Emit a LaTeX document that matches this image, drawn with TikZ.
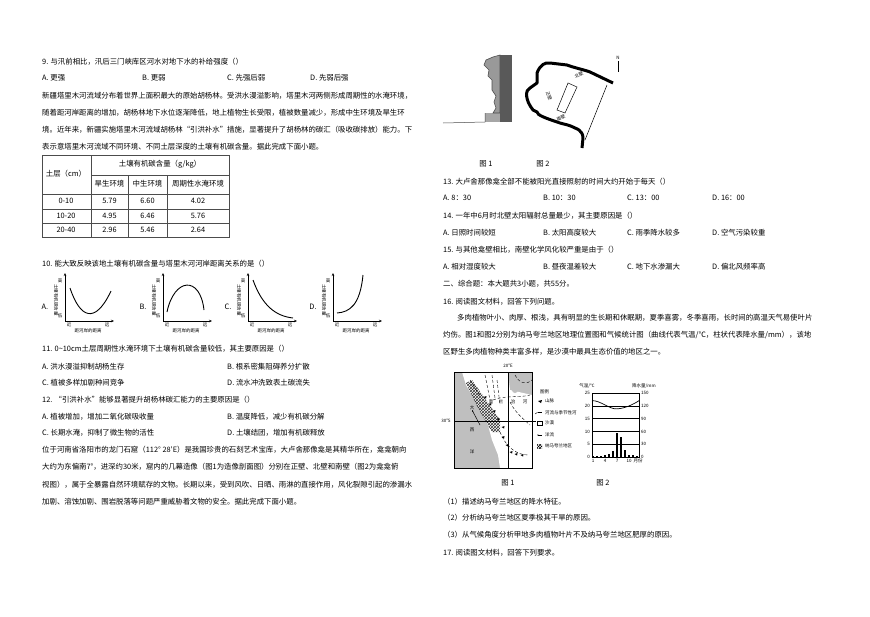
\documentclass[tikz,border=0pt]{standalone}
\usepackage{fontspec}
\setmainfont{Noto Sans CJK SC}
\usetikzlibrary{arrows.meta,patterns}
\begin{document}
\begin{tikzpicture}[x=1pt,y=-1pt,
 t/.style={anchor=west,inner sep=0pt,font=\fontsize{7.4}{9}\selectfont},
 c/.style={inner sep=0pt,font=\fontsize{7.4}{9}\selectfont},
 s/.style={inner sep=0pt,font=\fontsize{4.5}{5}\selectfont},
 ax/.style={line width=0.6pt,-{Stealth[length=3pt,width=2.5pt]}},
 cv/.style={line width=0.9pt},
 tb/.style={line width=0.5pt,draw=black!70}]
\useasboundingbox (0,0) rectangle (870,616);
\fill[white] (0,0) rectangle (870,616);
% ---------- left column ----------
\node[t] (q9) at (42,62) {9. 与汛前相比，汛后三门峡库区河水对地下水的补给强度（）};
\node[t] (q9a) at (42,78) {A. 更强};
\node[t] (q9b) at (142,78) {B. 更弱};
\node[t] (q9c) at (227,78) {C. 先强后弱};
\node[t] (q9d) at (310,78) {D. 先弱后强};
\node[t] (p1) at (42,96) {新疆塔里木河流域分布着世界上面积最大的原始胡杨林。受洪水漫溢影响，塔里木河两侧形成周期性的水淹环境，};
\node[t] (p2) at (42,113) {随着距河岸距离的增加，胡杨林地下水位逐渐降低，地上植物生长受限，植被数量减少，形成中生环境及旱生环};
\node[t] (p3) at (42,130) {境。近年来，新疆实施塔里木河流域胡杨林“引洪补水”措施，显著提升了胡杨林的碳汇（吸收碳排放）能力。下};
\node[t] (p4) at (42,147) {表示意塔里木河流域不同环境、不同土层深度的土壤有机碳含量。据此完成下面小题。};
% table
\draw[tb] (42,155) rectangle (229,237);
\draw[tb] (91,155) -- (91,237);
\draw[tb] (91,175) -- (229,175);
\draw[tb] (128,175) -- (128,237) (167,175) -- (167,237);
\draw[tb] (42,194) -- (229,194) (42,209) -- (229,209) (42,223) -- (229,223);
\node[c] (h0) at (66,174) {土层（cm）};
\node[c] (h1) at (160,164) {土壤有机碳含量（g/kg）};
\node[c] (h2) at (109.5,184) {旱生环境};
\node[c] (h3) at (147.5,184) {中生环境};
\node[c] (h4) at (198,184) {周期性水淹环境};
\node[c] (r1) at (66,201) {0-10};  \node[c] (r1a) at (109.5,201) {5.79}; \node[c] (r1b) at (147.5,201) {6.60}; \node[c] (r1c) at (198,201) {4.02};
\node[c] (r2) at (66,216) {10-20}; \node[c] (r2a) at (109.5,216) {4.95}; \node[c] (r2b) at (147.5,216) {6.46}; \node[c] (r2c) at (198,216) {5.76};
\node[c] (r3) at (66,230) {20-40}; \node[c] (r3a) at (109.5,230) {2.96}; \node[c] (r3b) at (147.5,230) {5.46}; \node[c] (r3c) at (198,230) {2.64};
\node[t] (q10) at (42,264) {10. 能大致反映该地土壤有机碳含量与塔里木河河岸距离关系的是（）};
% graphs
\foreach \o/\L [count=\i] in {0/A,98/B,183/C,268/D}{
 \begin{scope}[xshift=\o]
 \node[c] (gl\i) at (45,307) {\L.};
 \draw[ax] (65,321) -- (65,273);
 \draw[ax] (65,321) -- (114,321);
 \node[s,rotate=-90] (gy\i) at (56,300) {土壤有机碳含量};
 \node[s] (gh\i) at (60,281) {高};
 \node[s] (gd\i) at (60,316) {低};
 \node[s] (gn\i) at (69,325) {近};
 \node[s] (gf\i) at (107,325) {远};
 \node[s] (gx\i) at (88,331) {距河岸的距离};
 \end{scope}}
\draw[cv] (70,288) .. controls (80,318) and (95,325) .. (111,291);
\draw[cv] (167,312) .. controls (174,278) and (200,275) .. (204,310);
\draw[cv] (253,280) .. controls (262,305) and (275,316) .. (293,318);
\draw[cv] (337,313) .. controls (350,312) and (360,305) .. (363,275);
\node[t] (q11) at (42,349) {11. 0\textasciitilde10cm土层周期性水淹环境下土壤有机碳含量较低，其主要原因是（）};
\node[t] (q11a) at (42,367) {A. 洪水漫溢抑制胡杨生存};
\node[t] (q11b) at (227,367) {B. 根系密集阻碍养分扩散};
\node[t] (q11c) at (42,383) {C. 植被多样加剧种间竞争};
\node[t] (q11d) at (227,383) {D. 流水冲洗致表土碳流失};
\node[t] (q12) at (42,400) {12. “引洪补水”能够显著提升胡杨林碳汇能力的主要原因是（）};
\node[t] (q12a) at (42,417) {A. 植被增加，增加二氧化碳吸收量};
\node[t] (q12b) at (227,417) {B. 温度降低，减少有机碳分解};
\node[t] (q12c) at (42,433) {C. 长期水淹，抑制了微生物的活性};
\node[t] (q12d) at (227,433) {D. 土壤结团，增加有机碳释放};
\node[t] (p5) at (42,450) {位于河南省洛阳市的龙门石窟（112° 28′E）是我国珍贵的石刻艺术宝库，大卢舍那像龛是其精华所在，龛龛朝向};
\node[t] (p6) at (42,467) {大约为东偏南7°，进深约30米，窟内的几幕造像（图1为造像剖面图）分别在正壁、北壁和南壁（图2为龛龛俯};
\node[t] (p7) at (42,485) {视图），属于全暴露自然环境赋存的文物。长期以来，受到风吹、日晒、雨淋的直接作用，风化裂隙引起的渗漏水};
\node[t] (p8) at (42,502) {加剧、溶蚀加剧、围岩脱落等问题严重威胁着文物的安全。据此完成下面小题。};
% ---------- right column: fig 1/2 ----------
\fill[black!65] (500,55) rectangle (512,122);
\fill[black!35] (485,113) rectangle (500,122);
\draw[black!70,line width=0.6pt,fill=black!40] (500,55) -- (493,57) -- (486,60) -- (484,65) -- (489,70) -- (488,76) -- (492,80) -- (492,90) -- (496,96) -- (494,102) -- (496,108) -- (493,113) -- (500,113) -- cycle;
\draw[black!70,line width=0.5pt] (443,123) -- (485,122) -- (485,113);
\draw[line width=3pt,line join=round] (582,148) -- (583,138) .. controls (583,130) and (575,128) .. (575,128) .. controls (570,125) and (563,124) .. (560,123) .. controls (545,118) and (537,115) .. (537,112) -- (533,110) .. controls (525,100) and (525,90) .. (530,88) -- (537,83) -- (537,73) .. controls (540,65) and (545,62) .. (550,63) -- (567,65) .. controls (575,68) and (585,70) .. (590,72) -- (613,83);
\draw[line width=0.5pt] (607,85) -- (585,140);
\draw[line width=0.5pt] (568,83) -- (577,87) -- (565,113) -- (557,110) -- cycle;
\node[s,rotate=-70] (nb) at (549,96) {正壁};
\node[s,rotate=25] (bb) at (579,75) {北壁};
\node[s,rotate=25] (sb) at (561,118) {南壁};
\node[s] (nn) at (618,58) {N};
\draw[line width=0.6pt] (618,61) -- (618,72);
\node[c] (f1) at (486,164) {图 1};
\node[c] (f2) at (543,164) {图 2};
\node[t] (q13) at (443,182) {13. 大卢舍那像龛全部不能被阳光直接照射的时间大约开始于每天（）};
\node[t] (q13a) at (443,198) {A. 8：30};
\node[t] (q13b) at (543,198) {B. 10：30};
\node[t] (q13c) at (627,198) {C. 13：00};
\node[t] (q13d) at (712,198) {D. 16：00};
\node[t] (q14) at (443,216) {14. 一年中6月时北壁太阳辐射总量最少，其主要原因是（）};
\node[t] (q14a) at (443,233) {A. 日照时间较短};
\node[t] (q14b) at (543,233) {B. 太阳高度较大};
\node[t] (q14c) at (627,233) {C. 雨季降水较多};
\node[t] (q14d) at (712,233) {D. 空气污染较重};
\node[t] (q15) at (443,250) {15. 与其他龛壁相比，南壁化学风化较严重是由于（）};
\node[t] (q15a) at (443,267) {A. 相对湿度较大};
\node[t] (q15b) at (543,267) {B. 昼夜温差较大};
\node[t] (q15c) at (627,267) {C. 地下水渗漏大};
\node[t] (q15d) at (712,267) {D. 偏北风频率高};
\node[t] (s2) at (443,284) {二、综合题：本大题共3小题，共55分。};
\node[t] (q16) at (443,302) {16. 阅读图文材料，回答下列问题。};
\node[t] (p9) at (457,318) {多肉植物叶小、肉厚、根浅，具有明显的生长期和休眠期，夏季喜雾，冬季喜雨，长时间的高温天气易使叶片};
\node[t] (p10) at (443,335) {灼伤。图1和图2分别为纳马夸兰地区地理位置图和气候统计图（曲线代表气温/℃，柱状代表降水量/mm），该地};
\node[t] (p11) at (443,352) {区野生多肉植物种类丰富多样，是沙漠中最具生态价值的地区之一。};
% ---------- map ----------
\fill[black!25] (454,372) rectangle (532,468);
\fill[white] (462,372) -- (508,372) -- (510,390) -- (532,395) -- (532,468) -- (500,468) -- (498,455) -- (492,440) -- (488,425) -- (480,410) -- (472,395) -- (466,385) -- cycle;
\fill[black!25] (508,372) -- (530,372) .. controls (528,385) and (520,390) .. (512,388) -- cycle;
\fill[black!25] (515,390) circle (3);
\fill[pattern=crosshatch,pattern color=black!80] (466,383) -- (472,380) -- (500,420) -- (500,432) -- (492,432) -- (478,408) -- cycle;
\draw[line width=0.8pt] (454,372) rectangle (532,468);
\draw[line width=0.5pt] (508,372) -- (508,468);
\draw[line width=0.5pt] (454,421) -- (536,421);
\draw[densely dashed,line width=0.4pt] (485,375) -- (490,400) (492,375) -- (495,398) (497,380) -- (500,405) (470,380) -- (480,396);
\draw[densely dashed,line width=0.4pt] (493,400) .. controls (505,395) and (520,398) .. (530,395) (510,402) .. controls (515,412) and (522,418) .. (530,425) (515,375) .. controls (520,385) and (528,384) .. (532,380);
\draw[densely dashed,line width=0.4pt] (500,432) .. controls (505,445) and (515,455) .. (528,455);
\draw[line width=0.5pt,-{Stealth[length=2pt]}] (480,425) -- (472,410);
\foreach \p in {(485,398),(490,405),(494,412),(498,420),(503,428),(503,438),(507,446),(511,453),(516,455),(522,456)}
  \fill \p ++(-1.5,-1) -- ++(3,-1) -- ++(-0.5,2.5) -- cycle;
\node[s] (m20) at (508,366) {20°E};
\node[s] (m30) at (446,421) {30°S};
\node[s] (md) at (472,408) {大};
\node[s] (mx) at (472,430) {西};
\node[s] (my) at (472,452) {洋};
\node[s] (mr1) at (491,402) {奥};
\node[s] (mr2) at (501,402) {兰};
\node[s] (mr3) at (513,402) {治};
\node[s] (mr4) at (525,402) {河};
% legend
\node[s,anchor=west] (lg) at (540,392) {图例};
\fill (538,401) -- (542,400) -- (541,403) -- cycle;
\node[s,anchor=west] (l1) at (545,401) {山脉};
\draw[densely dashed,line width=0.4pt] (535,414) -- (538,412);
\draw[line width=0.4pt] (538,412) -- (542,412);
\node[s,anchor=west] (l2) at (545,413) {河流与季节性河};
\draw[line width=0.4pt] (537,421) rectangle (542,425);
\node[s,anchor=west] (l3) at (545,423) {沙漠};
\draw[line width=0.4pt,-{Stealth[length=1.5pt]}] (542,435) -- (537,435);
\node[s,anchor=west] (l4) at (545,435) {洋流};
\fill[pattern=crosshatch] (537,444) rectangle (542,448);
\node[s,anchor=west] (l5) at (545,446) {纳马夸兰地区};
% ---------- climate chart ----------
\draw[line width=0.5pt] (592,393) rectangle (639,457);
\foreach \v/\r in {5/30,10/60,15/90,20/120}{\draw[line width=0.5pt] (592,457-2.56*\v) -- (639,457-2.56*\v);
  \node[s,anchor=east] at (590,457-2.56*\v) {\v}; \node[s,anchor=west] at (641,457-2.56*\v) {\r};}
\node[s,anchor=east] (t25) at (590,393) {25}; \node[s,anchor=west] (t150) at (641,393) {150};
\node[s,anchor=east] (t0) at (590,457) {0}; \node[s,anchor=west] (t00) at (641,457) {0};
\foreach \m/\h in {1/0.4,2/0.4,3/0.5,4/0.8,5/1.0,6/2.3,7/9.4,8/7.8,9/2.7,10/0.8,11/0.6,12/0.4}
  \fill (593+4*\m-4-1,457) rectangle (593+4*\m-4+1,457-2.56*\h);
\draw[line width=0.7pt] (592,457-2.56*22) .. controls (600,457-2.56*22.2) and (610,457-2.56*18.5) .. (617,457-2.56*18.8) .. controls (625,457-2.56*19) and (633,457-2.56*20.5) .. (639,457-2.56*22);
\node[s] (cm1) at (593,461) {1}; \node[s] (cm4) at (605,461) {4}; \node[s] (cm7) at (617,461) {7}; \node[s] (cm10) at (629,461) {10}; \node[s] (cmy) at (638,461) {月份};
\node[s] (cta) at (587,386) {气温/℃};
\node[s] (ctp) at (644,386) {降水量/mm};
\node[c] (mf1) at (508,483) {图 1};
\node[c] (mf2) at (603,483) {图 2};
\node[t] (a1) at (443,502) {（1）描述纳马夸兰地区的降水特征。};
\node[t] (a2) at (443,518) {（2）分析纳马夸兰地区夏季极其干旱的原因。};
\node[t] (a3) at (443,535) {（3）从气候角度分析甲地多肉植物叶片不及纳马夸兰地区肥厚的原因。};
\node[t] (q17) at (443,553) {17. 阅读图文材料，回答下列要求。};
\end{tikzpicture}
\end{document}
